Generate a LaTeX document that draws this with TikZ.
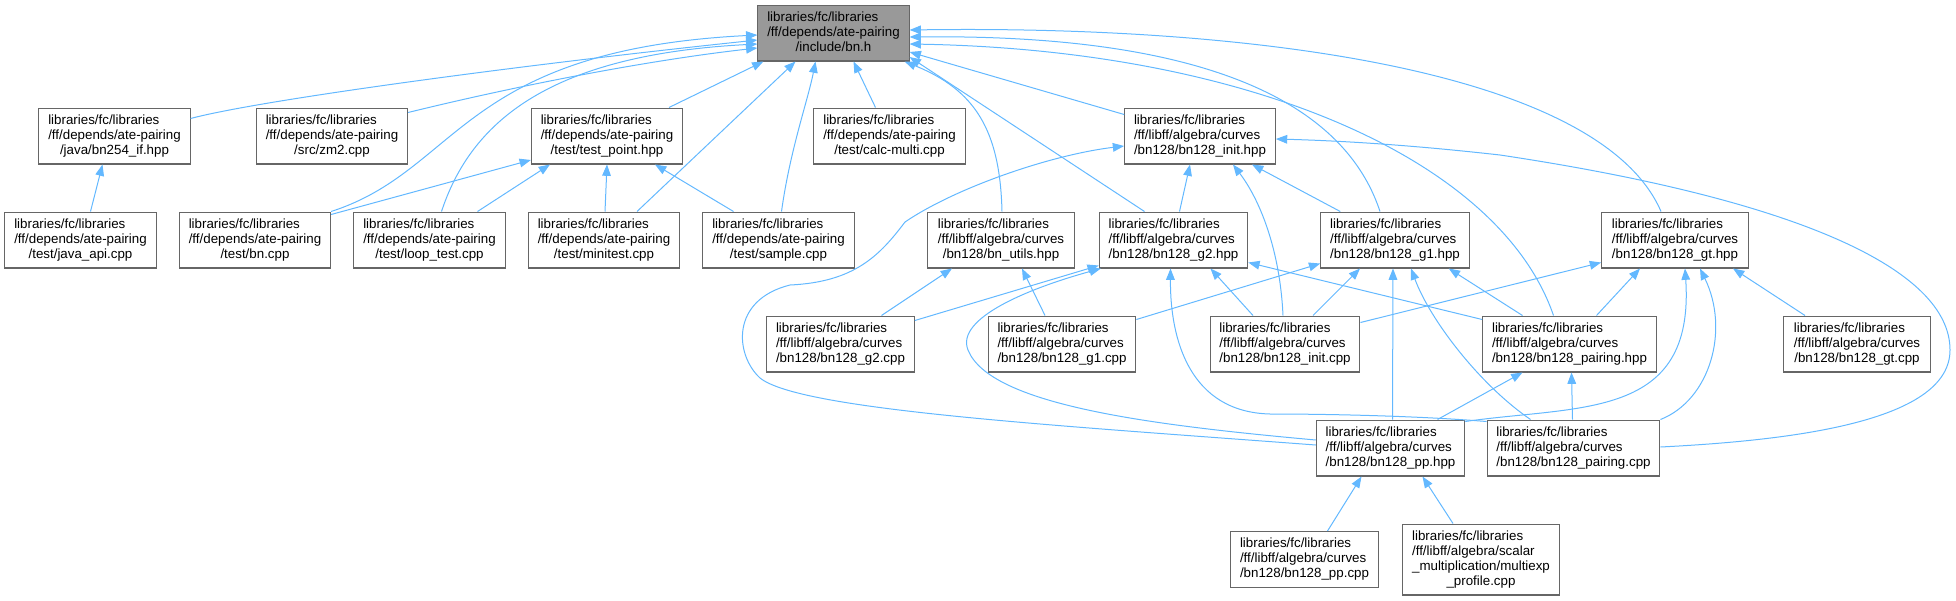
\documentclass[tikz,border=0pt]{standalone}
\usepackage{fontspec}
\setmainfont{Liberation Sans}
\usetikzlibrary{arrows.meta, calc}

\definecolor{edgeblue}{HTML}{63B8FF}
\definecolor{boxgrey}{HTML}{666666}
\definecolor{rootgrey}{HTML}{999999}

\newcommand{\flabel}[1]{\begin{tabular}{@{}l@{}}#1\end{tabular}}
\newcommand{\flast}[1]{\multicolumn{1}{@{}c@{}}{#1}}

\tikzstyle{file} = [
    rectangle,
    draw=boxgrey,
    fill=white,
    line width=0.8pt,
    inner xsep=7pt,
    inner ysep=4.1pt,
    minimum width=110pt,
    font=\fontsize{10}{11.25}\selectfont
]
\tikzstyle{rootfile} = [file, fill=rootgrey]
\tikzstyle{arrow} = [edgeblue, line width=0.75pt, -{Triangle[length=8.5pt,width=6.5pt]}]

\begin{document}
\begin{tikzpicture}[x=0.75pt, y=-0.75pt]

\useasboundingbox (0,0) rectangle (1956,600);

\node (bnh) [rootfile] at (833.5,33)
{\flabel{libraries/fc/libraries\\/ff/depends/ate-pairing\\\flast{/include/bn.h}}};

\node (bnif) [file] at (114.5,136)
{\flabel{libraries/fc/libraries\\/ff/depends/ate-pairing\\\flast{/java/bn254\_if.hpp}}};

\node (zm2) [file] at (332,136)
{\flabel{libraries/fc/libraries\\/ff/depends/ate-pairing\\\flast{/src/zm2.cpp}}};

\node (testpoint) [file] at (607,136)
{\flabel{libraries/fc/libraries\\/ff/depends/ate-pairing\\\flast{/test/test\_point.hpp}}};

\node (calcmulti) [file] at (889.5,136)
{\flabel{libraries/fc/libraries\\/ff/depends/ate-pairing\\\flast{/test/calc-multi.cpp}}};

\node (inithpp) [file] at (1200,136)
{\flabel{libraries/fc/libraries\\/ff/libff/algebra/curves\\\flast{/bn128/bn128\_init.hpp}}};

\node (javaapi) [file] at (80.5,240)
{\flabel{libraries/fc/libraries\\/ff/depends/ate-pairing\\\flast{/test/java\_api.cpp}}};

\node (bncpp) [file] at (255,240)
{\flabel{libraries/fc/libraries\\/ff/depends/ate-pairing\\\flast{/test/bn.cpp}}};

\node (looptest) [file] at (429.5,240)
{\flabel{libraries/fc/libraries\\/ff/depends/ate-pairing\\\flast{/test/loop\_test.cpp}}};

\node (minitest) [file] at (604,240)
{\flabel{libraries/fc/libraries\\/ff/depends/ate-pairing\\\flast{/test/minitest.cpp}}};

\node (sample) [file] at (778.5,240)
{\flabel{libraries/fc/libraries\\/ff/depends/ate-pairing\\\flast{/test/sample.cpp}}};

\node (bnutils) [file] at (1001,240)
{\flabel{libraries/fc/libraries\\/ff/libff/algebra/curves\\\flast{/bn128/bn\_utils.hpp}}};

\node (g2hpp) [file] at (1173.5,240)
{\flabel{libraries/fc/libraries\\/ff/libff/algebra/curves\\\flast{/bn128/bn128\_g2.hpp}}};

\node (g1hpp) [file] at (1395,240)
{\flabel{libraries/fc/libraries\\/ff/libff/algebra/curves\\\flast{/bn128/bn128\_g1.hpp}}};

\node (gthpp) [file] at (1675,240)
{\flabel{libraries/fc/libraries\\/ff/libff/algebra/curves\\\flast{/bn128/bn128\_gt.hpp}}};

\node (g2cpp) [file] at (840.5,344)
{\flabel{libraries/fc/libraries\\/ff/libff/algebra/curves\\\flast{/bn128/bn128\_g2.cpp}}};

\node (g1cpp) [file] at (1062,344)
{\flabel{libraries/fc/libraries\\/ff/libff/algebra/curves\\\flast{/bn128/bn128\_g1.cpp}}};

\node (initcpp) [file] at (1285,344)
{\flabel{libraries/fc/libraries\\/ff/libff/algebra/curves\\\flast{/bn128/bn128\_init.cpp}}};

\node (pairinghpp) [file] at (1569.5,344)
{\flabel{libraries/fc/libraries\\/ff/libff/algebra/curves\\\flast{/bn128/bn128\_pairing.hpp}}};

\node (gtcpp) [file] at (1857,344)
{\flabel{libraries/fc/libraries\\/ff/libff/algebra/curves\\\flast{/bn128/bn128\_gt.cpp}}};

\node (pphpp) [file] at (1390.5,448)
{\flabel{libraries/fc/libraries\\/ff/libff/algebra/curves\\\flast{/bn128/bn128\_pp.hpp}}};

\node (pairingcpp) [file] at (1573.5,448)
{\flabel{libraries/fc/libraries\\/ff/libff/algebra/curves\\\flast{/bn128/bn128\_pairing.cpp}}};

\node (ppcpp) [file] at (1304.5,559.5)
{\flabel{libraries/fc/libraries\\/ff/libff/algebra/curves\\\flast{/bn128/bn128\_pp.cpp}}};

\node (multiexp) [file] at (1481,559.5)
{\flabel{libraries/fc/libraries\\/ff/libff/algebra/scalar\\\_multiplication/multiexp\\\flast{\_profile.cpp}}};

\draw [arrow] ($(bnif.north east)+(0,11)$) .. controls (260,100) and (520,65) .. ($(bnh.west)+(0,7)$);
\draw [arrow] ($(zm2.north east)+(0,5)$) .. controls (520,85) and (650,60) .. ($(bnh.west)+(0,15)$);
\draw [arrow] (bncpp.north east) .. controls (460,170) and (460,50) .. ($(bnh.west)+(0,2)$);
\draw [arrow] ($(looptest.north)+(12,0)$) .. controls (470,125) and (545,55) .. ($(bnh.west)+(0,11)$);
\draw [arrow] ($(testpoint.north)+(62,0)$) -- ($(bnh.south west)+(6,0)$);
\draw [arrow] ($(minitest.north)+(33,0)$) -- ($(bnh.south)+(-38,0)$);
\draw [arrow] ($(sample.north)+(3,0)$) .. controls (790,150) and (808,100) .. ($(bnh.south)+(-18,0)$);
\draw [arrow] ($(calcmulti.north)+(-14,0)$) -- ($(bnh.south)+(20,0)$);
\draw [arrow] ($(bnutils.north)+(1,0)$) .. controls (1000,130) and (975,90) .. ($(bnh.south east)+(-5,0)$);
\draw [arrow] ($(g2hpp.north)+(-29,0)$) -- ($(bnh.east)+(0,24)$);
\draw [arrow] ($(inithpp.north west)+(0,7)$) -- ($(bnh.east)+(0,19)$);
\draw [arrow] ($(g1hpp.north)+(-15,0)$) .. controls (1330,60) and (1100,35) .. ($(bnh.east)+(0,4)$);
\draw [arrow] ($(pairinghpp.north)+(-16,0)$) .. controls (1500,160) and (1250,50) .. ($(bnh.east)+(0,11)$);
\draw [arrow] ($(gthpp.north)+(-14,0)$) .. controls (1600,70) and (1250,25) .. ($(bnh.east)+(0,-3)$);

\draw [arrow] ($(javaapi.north)+(10,0)$) -- ($(bnif.south)+(-12,0)$);
\draw [arrow] ($(bncpp.north east)+(0,3)$) -- ($(testpoint.west)+(0,24)$);
\draw [arrow] ($(looptest.north)+(48,0)$) -- ($(testpoint.south)+(-57,0)$);
\draw [arrow] ($(minitest.north)+(1,0)$) -- (testpoint.south);
\draw [arrow] ($(sample.north)+(-45,0)$) -- ($(testpoint.south)+(48,0)$);

\draw [arrow] ($(g2cpp.north)+(41,0)$) -- ($(bnutils.south)+(-49,0)$);
\draw [arrow] ($(g1cpp.north)+(-17,0)$) -- ($(bnutils.south)+(21,0)$);

\draw [arrow] ($(g2cpp.north east)+(0,5)$) -- ($(g2hpp.south west)+(0,-3)$);
\draw [arrow] ($(pphpp.west)+(0,-8)$) .. controls (1150,425) and (990,405) .. (968,350) .. controls (955,318) and (1030,288) .. ($(g2hpp.south west)+(2,0)$);
\draw [arrow] ($(pairingcpp.north west)+(0,2)$) .. controls (1420,416) and (1330,414) .. (1270,414) .. controls (1190,412) and (1170,340) .. ($(g2hpp.south)+(-3,0)$);
\draw [arrow] ($(initcpp.north)+(-32,0)$) -- ($(g2hpp.south)+(37,0)$);
\draw [arrow] ($(pairinghpp.north west)+(0,4)$) -- ($(g2hpp.south east)+(0,-6)$);

\draw [arrow] ($(g2hpp.north)+(6,0)$) -- ($(inithpp.south)+(-10,0)$);
\draw [arrow] ($(initcpp.north)+(-2,0)$) .. controls (1280,250) and (1260,200) .. ($(inithpp.south)+(33,0)$);
\draw [arrow] ($(g1hpp.north west)+(20,0)$) -- ($(inithpp.south)+(52,0)$);
\draw [arrow] ($(pphpp.west)+(0,-3)$) .. controls (1050,425) and (800,410) .. (760,378) .. controls (735,355) and (730,300) .. (790,285) .. controls (855,282) and (880,255) .. (905,222) .. controls (955,188) and (1050,155) .. ($(inithpp.west)+(0,10)$);
\draw [arrow] ($(pairingcpp.east)+(0,-1)$) .. controls (1800,440) and (1950,420) .. (1950,350) .. controls (1950,270) and (1800,200) .. (1500,155) .. controls (1420,146) and (1350,141) .. ($(inithpp.east)+(0,3)$);

\draw [arrow] ($(g1cpp.north east)+(0,4)$) -- ($(g1hpp.south west)+(0,-5)$);
\draw [arrow] ($(initcpp.north)+(28,0)$) -- ($(g1hpp.south)+(-35,0)$);
\draw [arrow] ($(pphpp.north)+(2,0)$) -- ($(g1hpp.south)+(-2,0)$);
\draw [arrow] ($(pairingcpp.north)+(-43,0)$) .. controls (1480,385) and (1430,320) .. ($(g1hpp.south)+(16,0)$);
\draw [arrow] ($(pairinghpp.north)+(-47,0)$) -- ($(g1hpp.south east)+(-21,0)$);

\draw [arrow] ($(initcpp.north east)+(0,7)$) -- ($(gthpp.south west)+(0,-6)$);
\draw [arrow] ($(pairinghpp.north)+(27,0)$) -- ($(gthpp.south)+(-35,0)$);
\draw [arrow] ($(pphpp.north east)+(0,2)$) .. controls (1580,405) and (1695,420) .. ($(gthpp.south)+(10,0)$);
\draw [arrow] (pairingcpp.north east) .. controls (1710,400) and (1730,330) .. ($(gthpp.south)+(25,0)$);
\draw [arrow] ($(gtcpp.north)+(-52,0)$) -- ($(gthpp.south)+(58,0)$);

\draw [arrow] ($(pphpp.north)+(47,0)$) -- ($(pairinghpp.south)+(-47,0)$);
\draw [arrow] ($(pairingcpp.north)+(-1,0)$) -- ($(pairinghpp.south)+(2,0)$);

\draw [arrow] ($(ppcpp.north)+(23,0)$) -- ($(pphpp.south)+(-29,0)$);
\draw [arrow] ($(multiexp.north)+(-28,0)$) -- ($(pphpp.south)+(32,0)$);

\end{tikzpicture}
\end{document}
